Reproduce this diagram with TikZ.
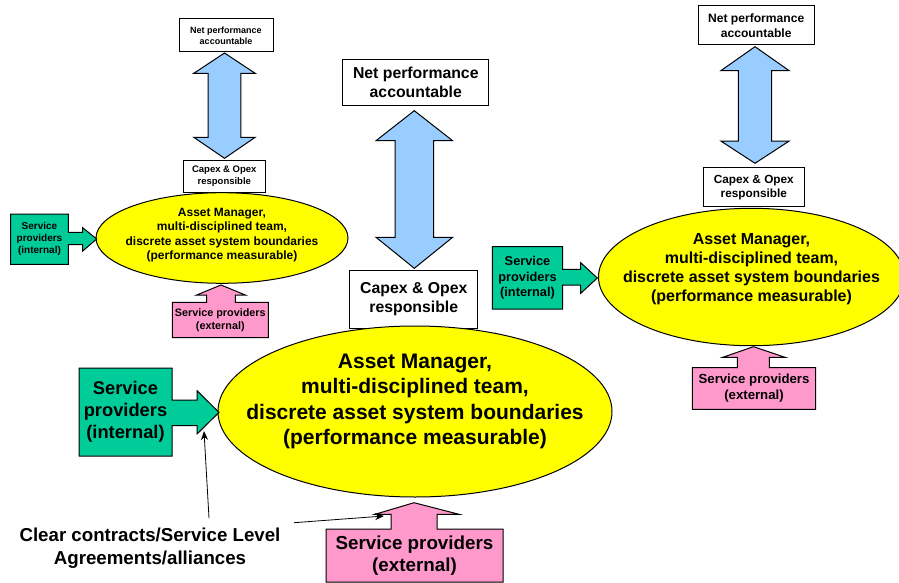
\documentclass[tikz,border=0pt]{standalone}
\usepackage{fontspec}
\setmainfont{Liberation Sans}
\usetikzlibrary{shapes.geometric,arrows.meta}
\definecolor{ellyellow}{HTML}{FFFF00}
\definecolor{spgreen}{HTML}{00CC99}
\definecolor{sppink}{HTML}{FF99CC}
\definecolor{arrblue}{HTML}{99CCFF}
\newcommand{\fsz}[1]{\fontsize{#1pt}{\dimexpr #1pt*12/10\relax}\selectfont}
\tikzset{
  wbox/.style={draw, fill=white, line width=1pt, inner sep=0pt, align=center, font=\bfseries\fsz{#1}},
  ellnode/.style={ellipse, draw, fill=ellyellow, line width=1pt, inner sep=0pt},
  btext/.style={align=center, font=\bfseries\fsz{#1}, inner sep=0pt},
  blockblue/.style={draw, fill=arrblue, line width=1pt, line join=miter},
  blockgreen/.style={draw, fill=spgreen, line width=1pt, line join=miter},
  blockpink/.style={draw, fill=sppink, line width=1pt, line join=miter},
  thinarrow/.style={draw, line width=0.8pt, -{Stealth[length=9pt,width=7pt]}}
}
\begin{document}
\begin{tikzpicture}[x=1pt,y=-1pt]
\fill[white] (0,0) rectangle (899,583);
\useasboundingbox (0,0) rectangle (899,583);

%% ---------------- left (small) group ----------------
\node[wbox=9, minimum width=94pt, minimum height=33pt] (lnet) at (226,35.5) {Net performance\\accountable};
\draw[blockblue] (224.5,53) -- (255.2,73.3) -- (240.8,73.3) -- (240.8,137.3) -- (255.2,137.3) -- (224.5,158.3)
  -- (193.8,137.3) -- (208.2,137.3) -- (208.2,73.3) -- (193.8,73.3) -- cycle;
\node[wbox=9.5, minimum width=82pt, minimum height=32.3pt] (lcap) at (224.3,176.2) {Capex \& Opex\\responsible};
\node[ellnode, minimum width=252pt, minimum height=90.6pt] (lell) at (222,238) {};
\node[btext=12] (lelltxt) at ([yshift=3pt]lell.center) {Asset Manager,\\multi-disciplined team,\\discrete asset system boundaries\\(performance measurable)};
\draw[blockgreen] (10.7,214) -- (68.3,214) -- (68.3,232.3) -- (82.7,232.3) -- (82.7,227.7) -- (96.7,239)
  -- (82.7,251) -- (82.7,244.5) -- (68.3,244.5) -- (68.3,264.3) -- (10.7,264.3) -- cycle;
\node[btext=10] (lgreen) at (39.5,239.2) {Service\\providers\\(internal)};
\draw[blockpink] (172.3,302.3) -- (206.7,302.3) -- (206.7,295) -- (196.7,295) -- (221,285) -- (245.3,295)
  -- (235.3,295) -- (235.3,302.3) -- (268.3,302.3) -- (268.3,337.7) -- (172.3,337.7) -- cycle;
\node[btext=10.8] (lpink) at (220.3,320) {Service providers\\(external)};

%% ---------------- middle (large) group ----------------
\node[wbox=15.8, minimum width=146.3pt, minimum height=46pt] (mnet) at (415.8,82.3) {Net performance\\accountable};
\draw[blockblue] (414.3,110.7) -- (452.6,140.7) -- (433.6,140.7) -- (433.6,237.3) -- (452.6,237.3) -- (414.3,268.3)
  -- (376,237.3) -- (395,237.3) -- (395,140.7) -- (376,140.7) -- cycle;
\node[wbox=15.8, minimum width=127.7pt, minimum height=58.3pt] (mcap) at (413.8,299.2) {Capex \& Opex\\responsible};
\node[ellnode, minimum width=394pt, minimum height=171pt] (mell) at (415,411.5) {};
\node[btext=21] (melltxt) at ([yshift=10pt]mell.center) {Asset Manager,\\multi-disciplined team,\\discrete asset system boundaries\\(performance measurable)};
\draw[blockgreen] (79,368) -- (172,368) -- (172,400) -- (197,400) -- (197,390.7) -- (219,412.4)
  -- (197,434) -- (197,425.7) -- (172,425.7) -- (172,456) -- (79,456) -- cycle;
\node[btext=18.3] (mgreen) at (125.5,412) {Service\\providers\\(internal)};
\draw[blockpink] (326,529) -- (391,529) -- (391,514.3) -- (375,514.3) -- (414,502.7) -- (459,514.3)
  -- (437,514.3) -- (437,529) -- (503,529) -- (503,582) -- (326,582) -- cycle;
\node[btext=18.8] (mpink) at (414.5,555.5) {Service providers\\(external)};

\node[btext=18.7] (clear) at (150,548) {Clear contracts/Service Level\\Agreements/alliances};
\coordinate (c1s) at (209,518);
\coordinate (c1e) at (204,431);
\coordinate (c2s) at (294,522.7);
\coordinate (c2e) at (384,516);
\draw[thinarrow] (c1s) -- (c1e);
\draw[thinarrow] (c2s) -- (c2e);

%% ---------------- right (medium) group ----------------
\node[wbox=12.1, minimum width=115.7pt, minimum height=39pt] (rnet) at (756.2,25.5) {Net performance\\accountable};
\draw[blockblue] (755,46.7) -- (789.2,70.7) -- (771.7,70.7) -- (771.7,141) -- (789.2,141) -- (755,163.3)
  -- (720.8,141) -- (738.3,141) -- (738.3,70.7) -- (720.8,70.7) -- cycle;
\node[wbox=11.8, minimum width=101pt, minimum height=39pt] (rcap) at (753.8,187.2) {Capex \& Opex\\responsible};
\node[ellnode, minimum width=306pt, minimum height=137.4pt] (rell) at (751.5,277) {};
\node[btext=16] (relltxt) at ([yshift=8pt]rell.center) {Asset Manager,\\multi-disciplined team,\\discrete asset system boundaries\\(performance measurable)};
\draw[blockgreen] (492.3,246.7) -- (562.7,246.7) -- (562.7,269.3) -- (580.7,269.3) -- (580.7,262.7) -- (597.3,278)
  -- (580.7,293.3) -- (580.7,285) -- (562.7,285) -- (562.7,309) -- (492.3,309) -- cycle;
\node[btext=12.8] (rgreen) at (527.5,277.8) {Service\\providers\\(internal)};
\draw[blockpink] (692.3,367.7) -- (737.3,367.7) -- (737.3,357.3) -- (722.7,357.3) -- (753.5,346.7) -- (785,357.3)
  -- (769.3,357.3) -- (769.3,367.7) -- (815.7,367.7) -- (815.7,409.3) -- (692.3,409.3) -- cycle;
\node[btext=13.2] (rpink) at (754,388.5) {Service providers\\(external)};
\end{tikzpicture}
\end{document}
